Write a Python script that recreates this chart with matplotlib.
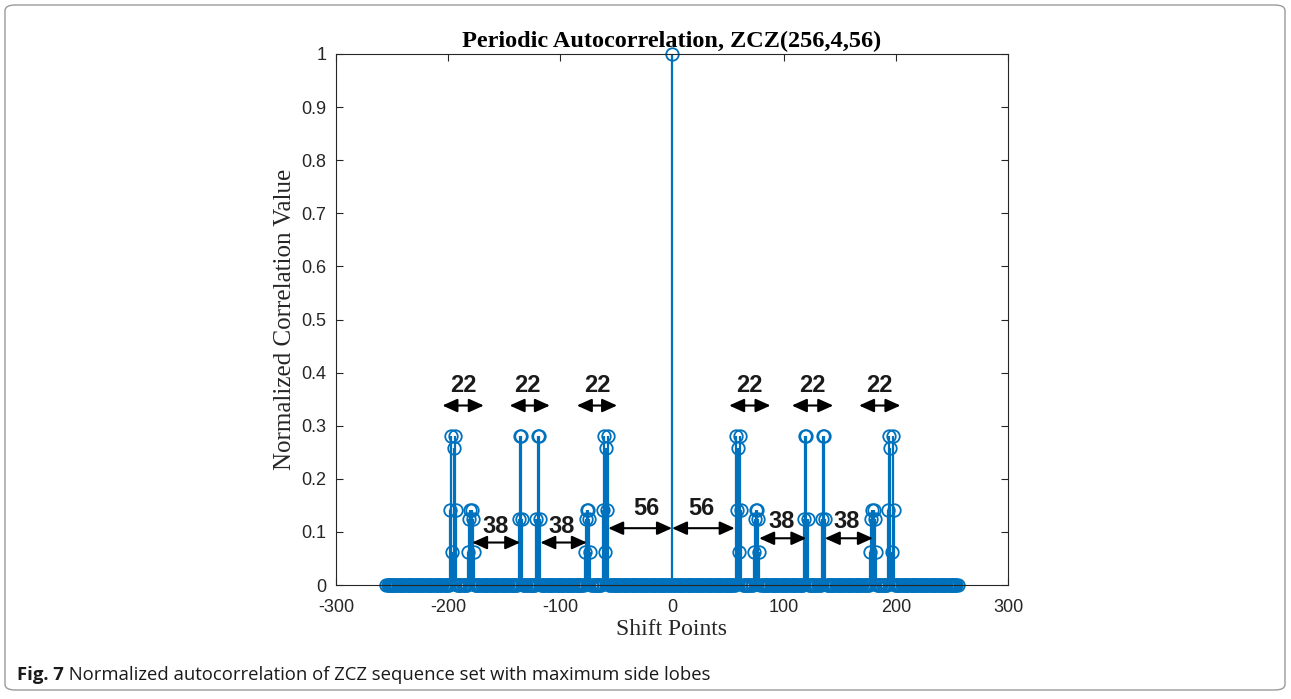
import numpy as np
import matplotlib.pyplot as plt
from matplotlib.patches import FancyBboxPatch

plt.rcParams["axes.unicode_minus"] = False

# side lobes on the positive side (mirrored to negative lags)
lobe_lags = [57, 58, 59, 60, 61, 62,
             73, 74, 75, 76, 77, 78,
             118, 119, 120, 121,
             134, 135, 136, 137,
             177, 178, 179, 180, 181, 182,
             193, 194, 195, 196, 197, 198]
lobe_vals = [0.28, 0.1406, 0.2578, 0.0625, 0.28, 0.1406,
             0.0625, 0.125, 0.1406, 0.1406, 0.125, 0.0625,
             0.125, 0.28, 0.28, 0.125,
             0.125, 0.28, 0.28, 0.125,
             0.0625, 0.125, 0.1406, 0.1406, 0.125, 0.0625,
             0.1406, 0.28, 0.2578, 0.0625, 0.28, 0.1406]
max_lag = 255

# annotations: (x start, x end, arrow y, label x, label y, label)
ann_x0 = [-205, -145, -85, 51, 107, 167, -178.5, -117.6, 77.8, 136.4, -57, 0]
ann_x1 = [-168, -109, -49, 88, 144, 204, -135.5, -76, 120, 179.4, 0, 56]
ann_y = [0.338] * 6 + [0.080, 0.080, 0.088, 0.088, 0.107, 0.107]
ann_tx = [-186, -129, -67, 69.5, 125.7, 185.4, -157.8, -98.3, 97.8, 155.7, -23, 26]
ann_ty = [0.376] * 6 + [0.110, 0.110, 0.119, 0.119, 0.145, 0.145]
ann_txt = ["22"] * 6 + ["38"] * 4 + ["56"] * 2

lags = np.arange(-max_lag, max_lag + 1)
corr = np.zeros(len(lags))
corr[lags == 0] = 1.0
for k, v in zip(lobe_lags, lobe_vals):
    corr[lags == k] = v
    corr[lags == -k] = v

blue = "#0072BD"
grey = "#262626"

fig = plt.figure(figsize=(12.91, 6.99), dpi=100)
ax = fig.add_axes([336 / 1291, 114 / 699, 672 / 1291, 531 / 699])

st = ax.stem(lags, corr, linefmt="-", markerfmt="o", basefmt=" ")
st.stemlines.set_color(blue)
st.stemlines.set_linewidth(1.6)
st.markerline.set_color(blue)
st.markerline.set_markerfacecolor("none")
st.markerline.set_markersize(9)
st.markerline.set_markeredgewidth(1.3)
st.markerline.set_clip_on(False)

ax.set_xlim(-300, 300)
ax.set_ylim(0, 1)
ax.set_xticks(np.arange(-300, 301, 100))
ax.set_yticks(np.arange(0, 1.01, 0.1))
ax.set_yticklabels(["0"] + ["%.1f" % v for v in np.arange(0.1, 0.95, 0.1)] + ["1"])
ax.tick_params(direction="in", top=True, right=True, length=5, width=0.8,
               colors=grey, labelsize=13)
ax.tick_params(axis="y", pad=7)
ax.tick_params(axis="x", pad=10)
for lab in ax.get_xticklabels() + ax.get_yticklabels():
    lab.set_family("Liberation Sans")
for s in ax.spines.values():
    s.set_color(grey)
    s.set_linewidth(0.8)

ax.set_title("Periodic Autocorrelation, ZCZ(256,4,56)", family="Liberation Serif",
             fontweight="bold", fontsize=17.5, pad=5)
ax.set_xlabel("Shift Points", family="Liberation Serif", fontsize=17, color=grey, labelpad=2)
ax.set_ylabel("Normalized Correlation Value", family="Liberation Serif", fontsize=18,
              color=grey, labelpad=4)

for x0, x1, y, tx, ty, t in zip(ann_x0, ann_x1, ann_y, ann_tx, ann_ty, ann_txt):
    ax.annotate("", xy=(x1, y), xytext=(x0, y),
                arrowprops=dict(arrowstyle="<|-|>,head_length=1.0,head_width=0.45",
                                mutation_scale=9, color="black", lw=1.5,
                                shrinkA=0, shrinkB=0))
    ax.text(tx, ty, t, ha="center", va="center", fontsize=17, fontweight="bold",
            family="Liberation Sans", color="#1a1a1a")

# outer frame and caption
frame = FancyBboxPatch((5 / 1291, 9 / 699), 1280 / 1291, 685 / 699,
                       boxstyle="round,pad=0,rounding_size=0.008",
                       transform=fig.transFigure, fill=False, edgecolor="#9a9a9a", lw=1)
fig.patches.append(frame)
cap = fig.text(17 / 1291, 24 / 699, "Fig. 7", fontsize=13.3, fontweight="bold",
               family="Open Sans", va="center", color="#1a1a1a")
plt.annotate(" Normalized autocorrelation of ZCZ sequence set with maximum side lobes",
             xy=(1, 0.5), xycoords=cap, va="center", fontsize=13.3, family="Open Sans",
             color="#1a1a1a", annotation_clip=False)

fig.savefig("out.png", dpi=100)
